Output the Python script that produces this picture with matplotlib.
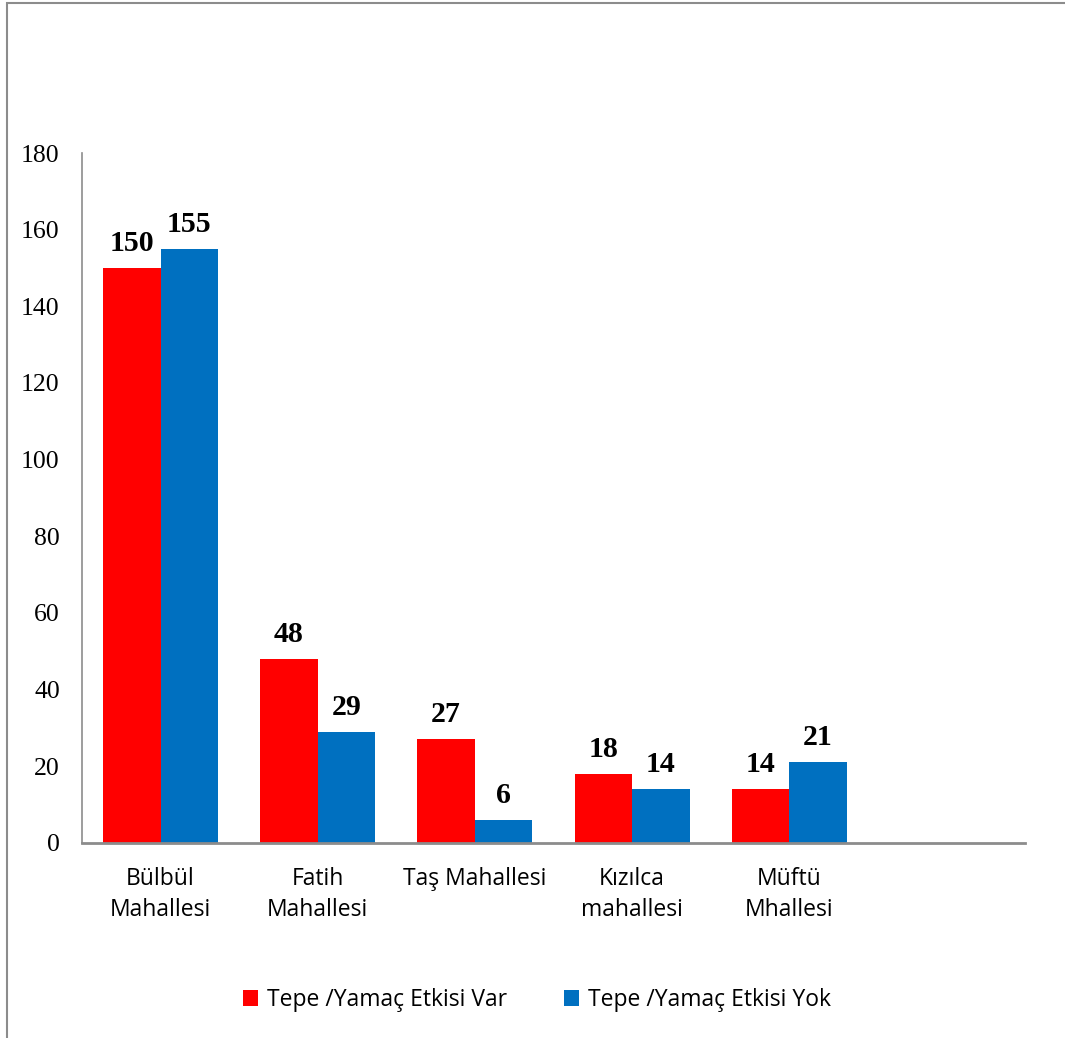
"""
Tepe / yamac etkisi by mahalle, grouped bar chart.
"""
import matplotlib
matplotlib.use("Agg")
import matplotlib.pyplot as plt
from matplotlib.patches import Rectangle
import numpy as np


CATEGORIES = ["Bülbül\nMahallesi", "Fatih\nMahallesi", "Taş Mahallesi",
              "Kızılca\nmahallesi", "Müftü\nMhallesi", ""]
VAR = [150, 48, 27, 18, 14]
YOK = [155, 29, 6, 14, 21]
SERIES = ["Tepe /Yamaç Etkisi Var", "Tepe /Yamaç Etkisi Yok"]
YTICKS = [0, 20, 40, 60, 80, 100, 120, 140, 160, 180]

COLORS = {"red": "#ff0000", "blue": "#0070c0", "gray": "#8c8c8c"}
SERIF = "Liberation Serif"
SANS = "Open Sans"


if __name__ == "__main__":
    fig = plt.figure(figsize=(10.65, 10.38), dpi=100)
    ax = fig.add_axes([0.077, 0.1879, 0.8854, 0.6647])

    # outer chart border (left and top visible)
    fig.add_artist(Rectangle((7 / 1065, -0.1), 1.2, (1038 - 3) / 1038 + 0.1,
                             transform=fig.transFigure, fill=False,
                             edgecolor=COLORS["gray"], linewidth=1.5))

    x = np.arange(len(CATEGORIES))
    n = len(VAR)
    width = 0.366
    b1 = ax.bar(x[:n] - width / 2, VAR, width, color=COLORS["red"],
                label=SERIES[0])
    b2 = ax.bar(x[:n] + width / 2, YOK, width, color=COLORS["blue"],
                label=SERIES[1])

    for bars in (b1, b2):
        ax.bar_label(bars, padding=8, fontsize=21.5, fontweight="bold",
                     family=SERIF)

    ax.set_xlim(-0.5, len(CATEGORIES) - 0.5)
    ax.set_ylim(0, 180)
    ax.set_yticks(YTICKS)
    ax.set_yticklabels([str(t) for t in YTICKS], family=SERIF, fontsize=18.5)
    ax.set_xticks(x)
    ax.set_xticklabels(CATEGORIES, family=SANS, fontsize=16.5,
                       linespacing=1.4)
    ax.tick_params(axis="y", length=0, pad=16)
    ax.tick_params(axis="x", length=0, pad=17)

    for side in ("top", "right"):
        ax.spines[side].set_visible(False)
    ax.spines["left"].set_color(COLORS["gray"])
    ax.spines["left"].set_linewidth(1.2)
    ax.spines["bottom"].set_color(COLORS["gray"])
    ax.spines["bottom"].set_linewidth(2)

    ax.legend(loc="center", bbox_to_anchor=(537 / 1065, 1 - 1000 / 1038),
              bbox_transform=fig.transFigure, ncol=2, frameon=False,
              prop={"family": SANS, "size": 16.5}, handlelength=0.65,
              handleheight=0.65, handletextpad=0.4, columnspacing=2.5)

    fig.savefig("out.png", dpi=100)
